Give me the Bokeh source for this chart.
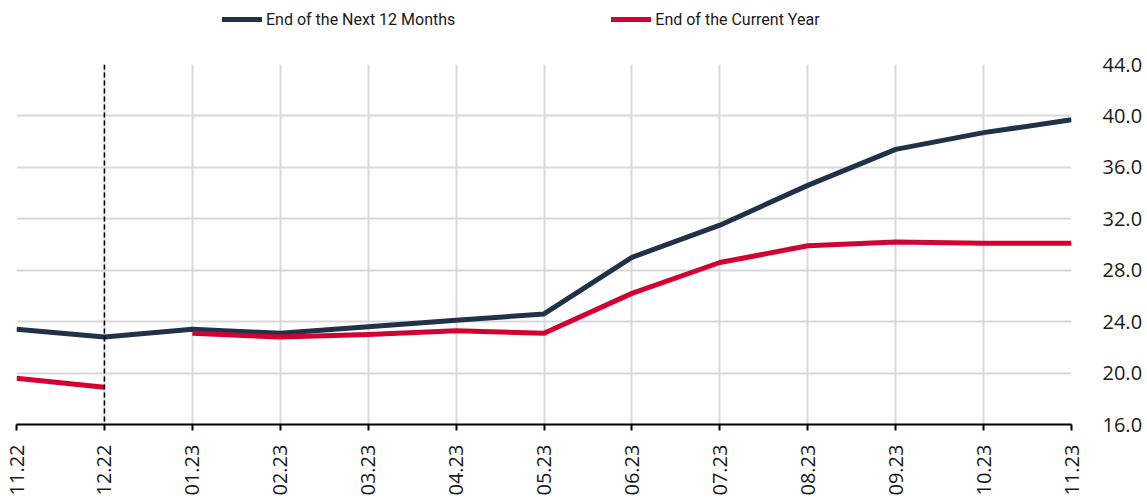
import math
from bokeh.plotting import figure
from bokeh.layouts import column
from bokeh.models import (Range1d, FixedTicker, Span, Legend, LegendItem)
from bokeh.embed import file_html
from bokeh.resources import INLINE

categories = ["11.22", "12.22", "01.23", "02.23", "03.23", "04.23", "05.23",
              "06.23", "07.23", "08.23", "09.23", "10.23", "11.23"]
next_12_months = [23.4, 22.8, 23.4, 23.1, 23.6, 24.1, 24.6, 29.0, 31.5, 34.6, 37.4, 38.7, 39.7]
current_year = [19.6, 18.9, 23.1, 22.8, 23.0, 23.3, 23.1, 26.2, 28.6, 29.9, 30.2, 30.1, 30.1]
break_after = "12.22"   # current-year series restarts with the new year
y_ticks = [16, 20, 24, 28, 32, 36, 40, 44]
series_names = ["End of the Next 12 Months", "End of the Current Year"]

DARK = "#1f3247"
RED = "#d50032"
FONT = "Roboto"
TICK_FONT = "Open Sans"

xs = list(range(len(categories)))
split = categories.index(break_after) + 1

# ---------- main chart ----------
p = figure(width=1145, height=458, output_backend="svg",
           toolbar_location=None, y_axis_location="right",
           min_border_left=16, min_border_top=24, min_border_bottom=72, min_border_right=73)
p.outline_line_color = None
p.x_range = Range1d(0, len(categories) - 1)
p.y_range = Range1d(y_ticks[0], y_ticks[-1])

p.xgrid.ticker = FixedTicker(ticks=xs)
p.ygrid.ticker = FixedTicker(ticks=y_ticks)
for g in (p.xgrid, p.ygrid):
    g.grid_line_color = "#d9d9d9"
    g.grid_line_width = 2

xa = p.xaxis[0]
xa.ticker = FixedTicker(ticks=xs)
xa.major_label_overrides = {i: c for i, c in enumerate(categories)}
xa.major_label_orientation = math.pi / 2
xa.major_label_text_font = TICK_FONT
xa.major_label_text_font_size = "20px"
xa.major_label_text_color = "#1a1a1a"
xa.axis_line_color = "black"
xa.axis_line_width = 2
xa.major_tick_line_color = "black"
xa.major_tick_line_width = 2
xa.major_tick_out = 6
xa.major_tick_in = 0
xa.minor_tick_line_color = None
xa.major_label_standoff = 14

ya = p.yaxis[0]
ya.ticker = FixedTicker(ticks=y_ticks)
ya.major_label_overrides = {t: f"{t:.1f}" for t in y_ticks}
ya.major_label_text_font = TICK_FONT
ya.major_label_text_font_size = "20px"
ya.major_label_text_color = "#1a1a1a"
ya.axis_line_color = None
ya.major_tick_line_color = None
ya.minor_tick_line_color = None
ya.major_label_standoff = 25

p.add_layout(Span(location=categories.index(break_after), dimension="height",
                  line_color="black", line_dash="5 3", line_width=1.5))

p.line(xs, next_12_months, line_color=DARK, line_width=5, line_join="round")
p.line(xs[:split], current_year[:split], line_color=RED, line_width=5, line_join="round")
p.line(xs[split:], current_year[split:], line_color=RED, line_width=5, line_join="round")

# ---------- legend strip (series drawn off-view, only legend visible) ----------
lf = figure(width=1145, height=40, output_backend="svg", toolbar_location=None,
            x_axis_location=None, y_axis_location=None,
            min_border_left=0, min_border_right=0, min_border_top=0, min_border_bottom=0)
lf.outline_line_color = None
lf.xgrid.visible = False
lf.ygrid.visible = False
lf.x_range = Range1d(-200, -100)
lf.y_range = Range1d(0, 1)
l_dark = lf.line(xs, next_12_months, line_color=DARK, line_width=5, line_cap="round")
l_red = lf.line(xs, current_year, line_color=RED, line_width=5, line_cap="round")

legend = Legend(items=[LegendItem(label=series_names[0], renderers=[l_dark]),
                       LegendItem(label=series_names[1], renderers=[l_red])],
                orientation="horizontal", location=(206, 11),
                label_text_font=FONT, label_text_font_size="16px", label_text_color="#1a1a1a",
                glyph_width=40, glyph_height=20, spacing=156, label_standoff=4,
                label_height=20, border_line_color=None, background_fill_alpha=0,
                margin=0, padding=0)
lf.add_layout(legend, "center")

layout = column(lf, p, spacing=0)
open("out.html", "w").write(file_html(layout, INLINE))
